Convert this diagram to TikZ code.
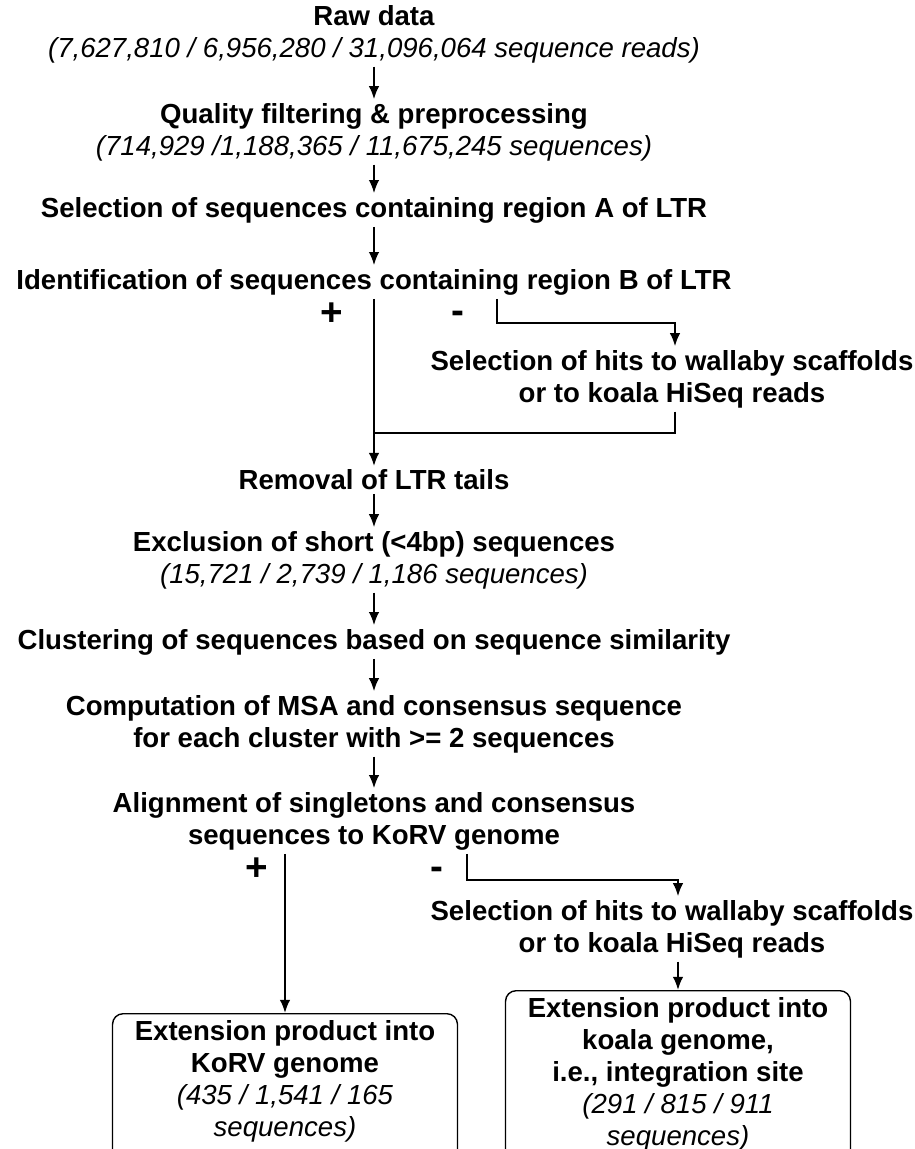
\documentclass[tikz,border=0pt]{standalone}
\usepackage{fontspec}
\setmainfont{Liberation Sans}
\usepackage{tikz}
\usetikzlibrary{positioning, arrows.meta}
\newcommand{\seqcount}[1]{{\mdseries\itshape #1}}

\begin{document}
\begin{tikzpicture}[x=0.02cm, y=-0.02cm,
  every node/.style={align=center, inner sep=2pt, font=\fontsize{15.7}{18.2}\selectfont\bfseries},
  flow/.style={-{Latex[length=7.5pt, width=6pt]}, line width=1.1pt},
  sign/.style={anchor=base, inner sep=0pt, font=\fontsize{22}{22}\selectfont\bfseries},
  result/.style={draw, line width=0.8pt, rounded corners=6pt, anchor=north, minimum width=6.9cm, inner ysep=4pt, text depth=10pt}]

  \useasboundingbox (0,0) rectangle (915,1149);

  \node (raw) at (374,34) {Raw data\\ \seqcount{(7,627,810 / 6,956,280 / 31,096,064 sequence reads)}};
  \node (qual) at (374,132) {Quality filtering \& preprocessing\\ \seqcount{(714,929 /1,188,365 / 11,675,245 sequences)}};
  \node (selA) at (374,210) {Selection of sequences containing region A of LTR};
  \node (ident) at (374,282) {Identification of sequences containing region B of LTR};
  \node (hitsA) at (672,379) {Selection of hits to wallaby scaffolds\\ or to koala HiSeq reads};
  \node (removal) at (374,480) {Removal of LTR tails};
  \node (excl) at (374,560) {Exclusion of short (<4bp) sequences\\ \seqcount{(15,721 / 2,739 / 1,186 sequences)}};
  \node (clust) at (374,642) {Clustering of sequences based on sequence similarity};
  \node (msa) at (374,724) {Computation of MSA and consensus sequence\\ for each cluster with >= 2 sequences};
  \node (align) at (374,821) {Alignment of singletons and consensus\\ sequences to KoRV genome};
  \node (hitsB) at (672,929) {Selection of hits to wallaby scaffolds\\ or to koala HiSeq reads};

  \node[result] (korv) at (285,1013) {Extension product into\\ KoRV genome\\ \seqcount{(435 / 1,541 / 165}\\ \seqcount{sequences)}};
  \node[result] (koala) at (678,990) {Extension product into\\ koala genome,\\ i.e., integration site\\ \seqcount{(291 / 815 / 911}\\ \seqcount{sequences)}};

  \node[sign] (plusA) at (332,325) {+};
  \node[sign] (minusA) at (458,323) {-};
  \node[sign] (plusB) at (257,880) {+};
  \node[sign] (minusB) at (437,879) {-};

  \coordinate (negA) at (497,0);
  \coordinate (colA) at (675,0);
  \coordinate (joinA) at (374,433);
  \coordinate (negB) at (467,0);
  \coordinate (colB) at (678,0);

  \foreach \from/\to in {raw/qual, qual/selA, selA/ident, ident/removal, removal/excl, excl/clust, clust/msa, msa/align}
    \draw[flow] (\from) -- (\to);

  \draw[flow] (ident.south -| negA) -- ++(0,24) -| (hitsA.north -| colA);
  \draw[line width=1.1pt] (hitsA.south -| colA) |- (joinA);

  \draw[flow] (align.south -| korv.north) -- (korv.north);
  \draw[flow] (align.south -| negB) -- ++(0,26) -| (hitsB.north -| colB);
  \draw[flow] (hitsB.south -| colB) -- (koala.north);
\end{tikzpicture}
\end{document}
